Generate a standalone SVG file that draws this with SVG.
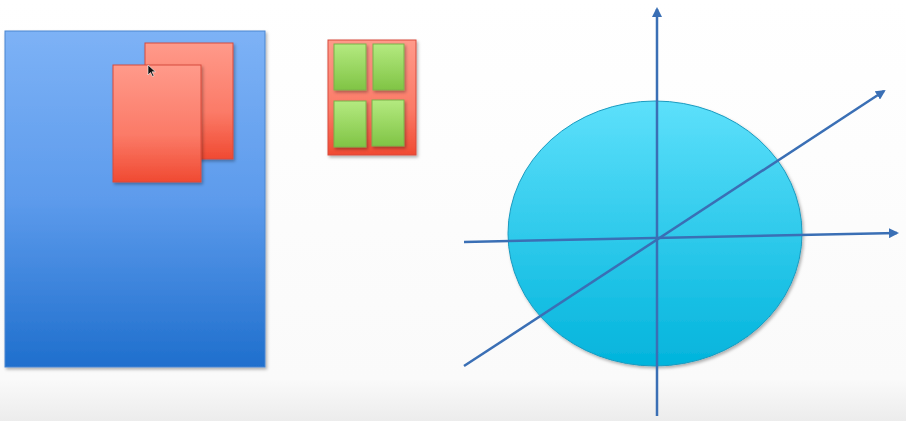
<svg xmlns="http://www.w3.org/2000/svg" width="906" height="421" viewBox="0 0 906 421">
<defs>
<linearGradient id="bg" x1="0" y1="0" x2="0" y2="1"><stop offset="0" stop-color="#ffffff"/><stop offset="0.9" stop-color="#fafafa"/><stop offset="1" stop-color="#ececec"/></linearGradient>
<linearGradient id="blue" x1="0" y1="0" x2="0" y2="1"><stop offset="0" stop-color="#7db2f6"/><stop offset="0.5" stop-color="#5d9bec"/><stop offset="1" stop-color="#1f6fcd"/></linearGradient>
<linearGradient id="red" x1="0" y1="0" x2="0" y2="1"><stop offset="0" stop-color="#ff9a8a"/><stop offset="0.6" stop-color="#fb7a67"/><stop offset="1" stop-color="#f04a32"/></linearGradient>
<linearGradient id="green" x1="0" y1="0" x2="0" y2="1"><stop offset="0" stop-color="#b4ea80"/><stop offset="1" stop-color="#80c445"/></linearGradient>
<linearGradient id="cyan" x1="0" y1="0" x2="0" y2="1"><stop offset="0" stop-color="#5de0fb"/><stop offset="1" stop-color="#02b4dc"/></linearGradient>
<filter id="sh" x="-10%" y="-10%" width="130%" height="130%"><feDropShadow dx="1.5" dy="2" stdDeviation="1.5" flood-color="#000" flood-opacity="0.3"/></filter>
<marker id="ah" viewBox="0 0 10 10" refX="8" refY="5" markerWidth="4" markerHeight="4" orient="auto"><path d="M0,0 L10,5 L0,10 z" fill="#3a6fb5"/></marker>
<style>
.redr{fill:url(#red);stroke:#d84a3c;stroke-width:1;filter:url(#sh)}
.grn{fill:url(#green);stroke:#7cb04a;stroke-width:1;filter:url(#sh)}
.ax{stroke:#3a6fb5;stroke-width:2.5;fill:none;marker-end:url(#ah)}
</style>
</defs>
<rect width="906" height="421" fill="url(#bg)"/>
<g id="blue-page"><rect x="5" y="31" width="260" height="336" fill="url(#blue)" stroke="#4a86d0" stroke-width="1" filter="url(#sh)"/></g>
<g id="red-back"><rect class="redr" x="145" y="43" width="88" height="116"/></g>
<g id="red-front"><rect class="redr" x="113" y="65" width="88" height="117"/></g>
<g id="cursor"><path d="M148,65 L148,75 L150.5,72.5 L152.5,76.5 L154,75.8 L152,71.8 L155.5,71.8 Z" fill="#111" stroke="#fff" stroke-width="0.6"/></g>
<g id="grid-box"><rect class="redr" x="328" y="40" width="88" height="115"/>
<rect class="grn" x="334" y="44" width="32" height="46"/>
<rect class="grn" x="373" y="44" width="31" height="46"/>
<rect class="grn" x="334" y="101" width="32" height="46"/>
<rect class="grn" x="372" y="100" width="32" height="46"/></g>
<g id="ellipse"><ellipse cx="655" cy="233.5" rx="147" ry="132.5" fill="url(#cyan)" stroke="#1a9bc0" stroke-width="1" filter="url(#sh)"/></g>
<g id="connectors">
<line class="ax" x1="657" y1="416" x2="657" y2="9"/>
<line class="ax" x1="464" y1="242" x2="897" y2="233"/>
<line class="ax" x1="464" y1="366" x2="884" y2="91"/>
</g>
</svg>
